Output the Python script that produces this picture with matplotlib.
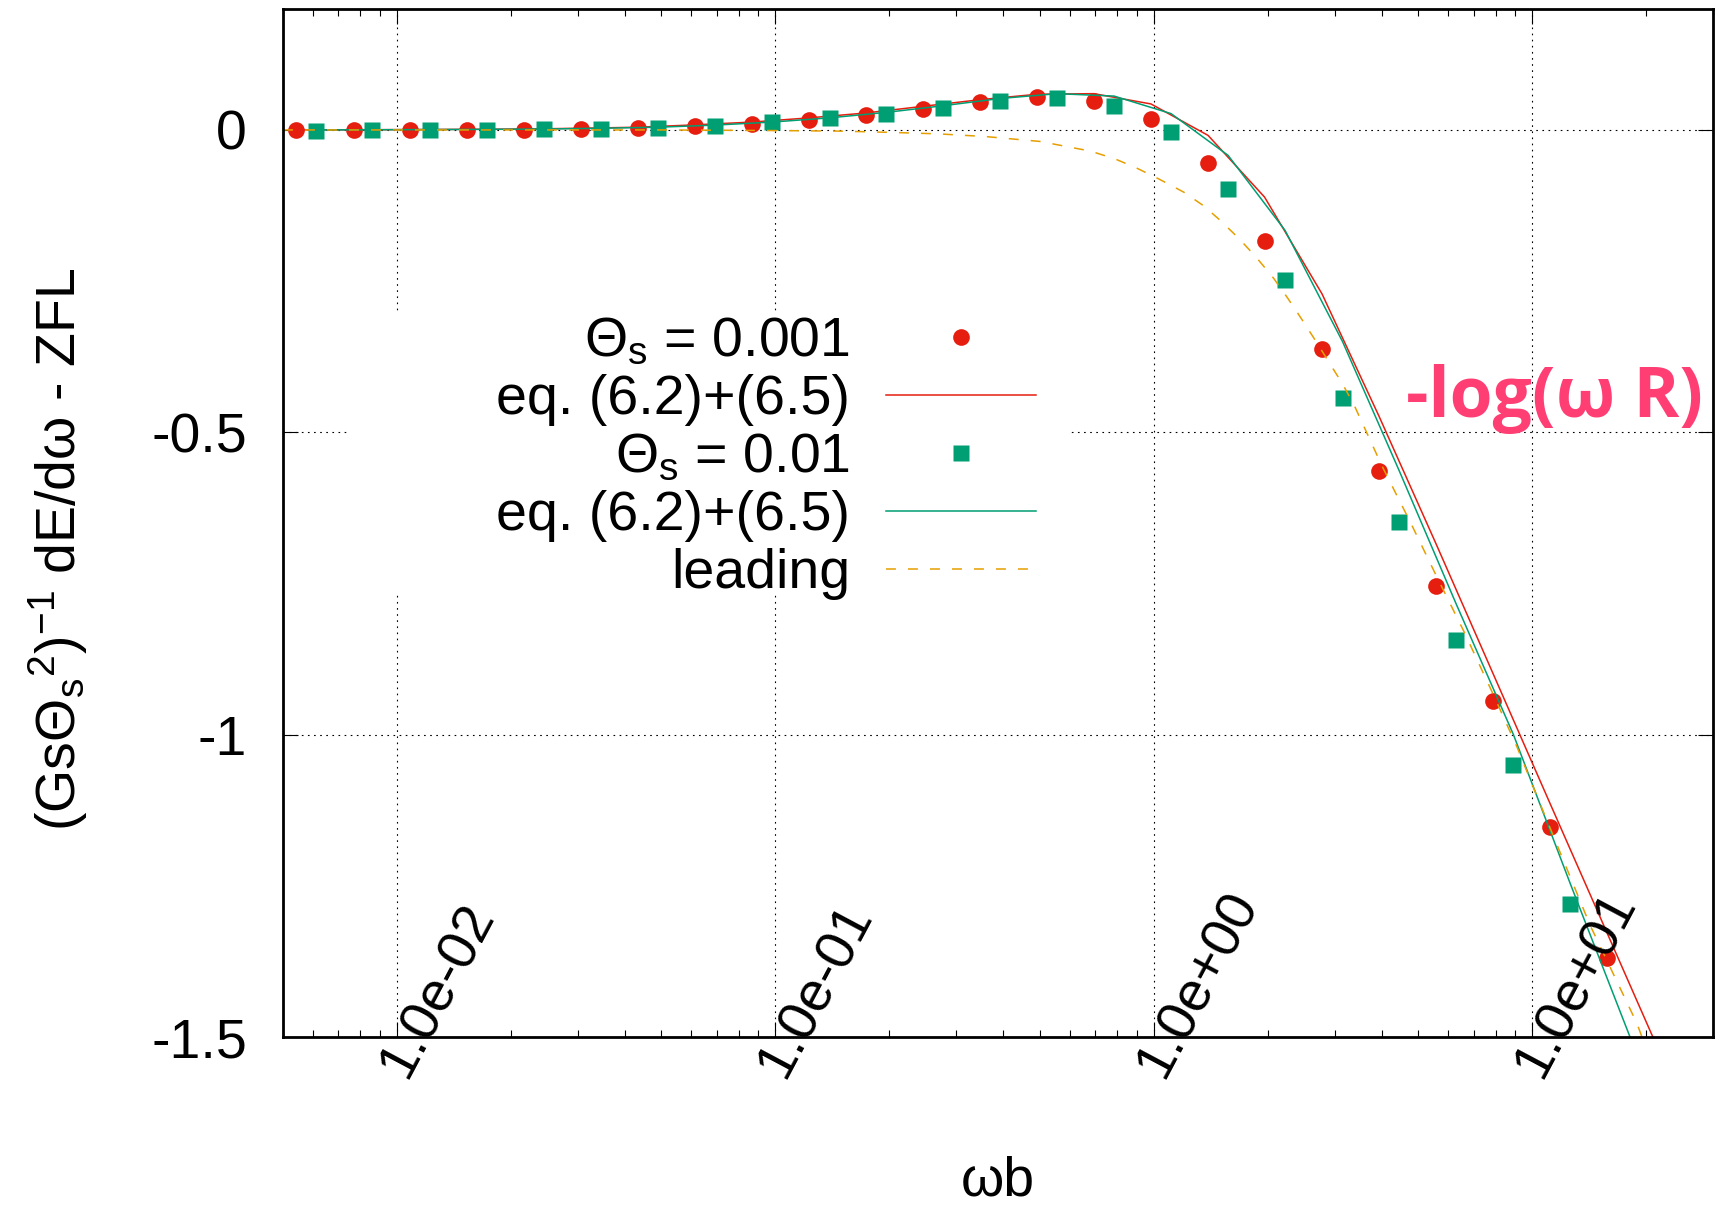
import matplotlib
matplotlib.use("Agg")
import matplotlib.pyplot as plt
import matplotlib.transforms as mtransforms
from matplotlib.patches import Rectangle
from matplotlib.ticker import FixedLocator, LogLocator, NullFormatter

plt.rcParams['font.family'] = ['Liberation Sans', 'DejaVu Sans']
plt.rcParams['mathtext.fontset'] = 'custom'
plt.rcParams['mathtext.rm'] = 'Liberation Sans'
plt.rcParams['mathtext.it'] = 'Liberation Sans'
plt.rcParams['mathtext.bf'] = 'Liberation Sans:bold'

# Theta_s = 0.001: MC points and eq. (6.2)+(6.5)
w_a = [0.0054, 0.0077, 0.0108, 0.0153, 0.0217, 0.0306, 0.0433, 0.0613, 0.0867, 0.123,
       0.173, 0.245, 0.347, 0.491, 0.694, 0.982, 1.39, 1.96, 2.78, 3.93, 5.56, 7.87, 11.1, 15.7]
y_a = [0.0, 0.0, 0.0, 0.0, 0.0005, 0.0023, 0.0035, 0.0068, 0.010, 0.016,
       0.0244, 0.034, 0.046, 0.054, 0.0475, 0.018, -0.055, -0.183, -0.362, -0.564,
       -0.754, -0.944, -1.152, -1.369]
w_a_eq = [0.0054, 0.0077, 0.0108, 0.0153, 0.0217, 0.0306, 0.0433, 0.0613, 0.0867, 0.123,
          0.173, 0.245, 0.347, 0.491, 0.694, 0.982, 1.39, 1.96, 2.78, 3.93, 5.56, 7.87,
          11.1, 15.7, 22.2]
y_a_eq = [0.0, 0.0003, 0.0006, 0.001, 0.0015, 0.0028, 0.0045, 0.0084, 0.013, 0.020,
          0.028, 0.039, 0.050, 0.059, 0.060, 0.043, -0.009, -0.111, -0.271, -0.473,
          -0.684, -0.899, -1.112, -1.326, -1.54]

# Theta_s = 0.01
w_b = [0.0061, 0.0086, 0.0122, 0.0173, 0.0244, 0.0346, 0.0489, 0.0692, 0.0979, 0.139,
       0.196, 0.277, 0.392, 0.555, 0.785, 1.11, 1.57, 2.22, 3.15, 4.45, 6.30, 8.91, 12.6]
y_b = [-0.001, 0.0005, 0.0005, 0.0005, 0.001, 0.0023, 0.004, 0.0073, 0.0128, 0.019,
       0.027, 0.037, 0.0486, 0.052, 0.040, -0.004, -0.098, -0.248, -0.443, -0.648,
       -0.843, -1.050, -1.280]
w_b_eq = [0.0061, 0.0086, 0.0122, 0.0173, 0.0244, 0.0346, 0.0489, 0.0692, 0.0979, 0.139,
          0.196, 0.277, 0.392, 0.555, 0.785, 1.11, 1.57, 2.22, 3.15, 4.45, 6.30, 8.91,
          12.6, 17.8, 25.2]
y_b_eq = [0.0, 0.0003, 0.0006, 0.001, 0.0015, 0.0028, 0.0045, 0.008, 0.013, 0.020,
          0.029, 0.040, 0.052, 0.060, 0.056, 0.027, -0.042, -0.166, -0.350, -0.564,
          -0.785, -1.0, -1.247, -1.488, -1.73]

# leading-order curve
w_lead = [0.005, 0.05, 0.1, 0.15, 0.2, 0.27, 0.36, 0.5, 0.68, 0.79, 0.9, 1.03, 1.2, 1.35,
          1.5, 1.68, 1.86, 2.07, 2.25, 2.44, 2.67, 2.9, 3.15, 3.38, 4.0, 4.77, 5.6, 6.6,
          7.9, 9.1, 10.1, 14.2, 18.9, 22.0]
y_lead = [0.0, 0.0, -0.001, -0.002, -0.004, -0.0065, -0.011, -0.019, -0.035, -0.048,
          -0.063, -0.081, -0.103, -0.125, -0.150, -0.180, -0.210, -0.245, -0.277, -0.310,
          -0.348, -0.384, -0.420, -0.455, -0.555, -0.650, -0.740, -0.830, -0.935, -1.020,
          -1.090, -1.315, -1.478, -1.59]

xtick_vals = [1e-2, 1e-1, 1e0, 1e1]
xtick_labels = ['1.0e-02', '1.0e-01', '1.0e+00', '1.0e+01']
ytick_vals = [-1.5, -1.0, -0.5, 0.0]
ytick_labels = ['-1.5', '-1', '-0.5', '0']

RED = '#E51E10'
GREEN = '#009E73'
ORANGE = '#E69F00'
FS = 40

fig = plt.figure(figsize=(17.19, 12.10), dpi=100)
ax = fig.add_axes([283 / 1719, 1 - 1037 / 1210, 1430 / 1719, 1028 / 1210])

ax.plot(w_a, y_a, 'o', color=RED, ms=12, mec='none', label=r'$\Theta_\mathrm{s}$ = 0.001')
ax.plot(w_a_eq, y_a_eq, '-', color=RED, lw=1.1, label='eq. (6.2)+(6.5)')
ax.plot(w_b, y_b, 's', color=GREEN, ms=12, mec='none', label=r'$\Theta_\mathrm{s}$ = 0.01')
ax.plot(w_b_eq, y_b_eq, '-', color=GREEN, lw=1.1, label='eq. (6.2)+(6.5)')
ax.plot(w_lead, y_lead, color=ORANGE, lw=1.1, ls=(0, (6.5, 7.9)), label='leading')

ax.set_xscale('log')
ax.set_xlim(0.005, 30)
ax.set_ylim(-1.5, 0.2)

ax.xaxis.set_major_locator(FixedLocator(xtick_vals))
ax.xaxis.set_minor_locator(LogLocator(base=10, subs=range(2, 10), numticks=30))
ax.xaxis.set_minor_formatter(NullFormatter())
ax.set_yticks(ytick_vals)
ax.set_yticklabels(ytick_labels)

ax.tick_params(which='major', direction='in', length=10.8, width=0.8,
               top=True, right=True, labelsize=FS)
ax.tick_params(which='minor', direction='in', length=5, width=0.8, top=True)
ax.tick_params(axis='y', pad=26)
ax.tick_params(axis='x', labelbottom=False)
for sp in ax.spines.values():
    sp.set_linewidth(2)

ax.set_axisbelow(True)
ax.grid(True, which='major', color='black', lw=0.8, ls=(0, (1.5, 4)))

# rotated x tick labels, anchored just below each decade
offset = mtransforms.ScaledTranslation(9 / 100, -43 / 100, fig.dpi_scale_trans)
trans = mtransforms.blended_transform_factory(ax.transData, ax.transAxes) + offset
for w, lab in zip(xtick_vals, xtick_labels):
    ax.text(w, 0, lab, transform=trans, rotation=62, rotation_mode='anchor',
            ha='left', va='baseline', fontsize=FS, zorder=6)

ax.set_xlabel('ωb', fontsize=FS)
ax.xaxis.set_label_coords(0.5, -0.115)
ax.set_ylabel(r'(Gs$\Theta_\mathrm{s}{}^{2}$)$^{-1}$ dE/dω - ZFL', fontsize=FS)
ax.yaxis.set_label_coords(-0.135, 0.474)

# opaque key area
ax.add_patch(Rectangle((0.046, 0.433), 0.5037, 0.272, transform=ax.transAxes,
                       facecolor='white', edgecolor='none', zorder=1.5))
ax.legend(loc='upper right', bbox_to_anchor=(0.5266, 0.701), markerfirst=False,
          frameon=False, fontsize=FS, handlelength=2.7, handletextpad=0.65,
          labelspacing=0.107, borderpad=0, borderaxespad=0, numpoints=1)

ax.text(0.993, 0.603, '-log(ω R)', transform=ax.transAxes, ha='right', va='baseline',
        color='#FF3F74', fontsize=50, fontweight='bold',
        family=['Open Sans', 'DejaVu Sans'])

fig.savefig('out.png', dpi=100)
